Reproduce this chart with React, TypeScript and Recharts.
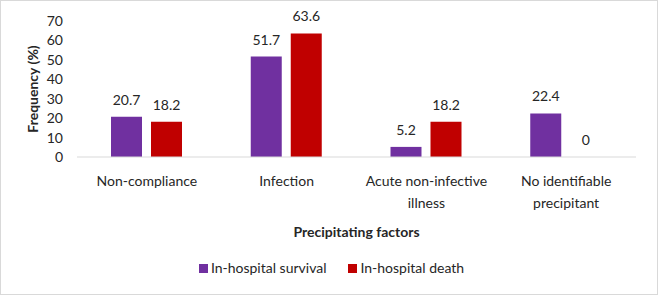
import React from "react";
import { BarChart, Bar, XAxis, YAxis, Legend, LabelList } from "recharts";

// precipitating factors (\n = line break in the axis label)
const categories = [
  "Non-compliance",
  "Infection",
  "Acute non-infective\nillness",
  "No identifiable\nprecipitant",
];
const survival = [20.7, 51.7, 5.2, 22.4];
const death = [18.2, 63.6, 18.2, 0];
const yTicks = [0, 10, 20, 30, 40, 50, 60, 70];
const seriesOrder = ["In-hospital survival", "In-hospital death"];

const PURPLE = "#7030A0";
const RED = "#C00000";
const TEXT = "#262626";
const FONT = "Lato, 'Liberation Sans', sans-serif";

const data = categories.map((c, i) => ({
  factor: c,
  survival: survival[i],
  death: death[i],
}));

const FactorTick = (props: any) => {
  const { x, y, payload } = props;
  const lines = String(payload.value).split("\n");
  return (
    <text x={x} y={y} textAnchor="middle" fill={TEXT} fontSize={14} fontFamily={FONT}>
      {lines.map((l, i) => (
        <tspan key={i} x={x} dy={i === 0 ? 28.6 : 22.5}>
          {l}
        </tspan>
      ))}
    </text>
  );
};

// value labels, drawn also for zero-height bars
const ValueLabel = (props: any) => {
  const { x, y, width, value } = props;
  if (value === undefined || value === null) return null;
  return (
    <text
      x={Number(x) + Number(width) / 2}
      y={Number(y) - 12}
      textAnchor="middle"
      fill={TEXT}
      fontSize={14}
      fontFamily={FONT}
    >
      {value}
    </text>
  );
};

const LegendBox = (props: any) => {
  const items = [...(props.payload || [])].sort(
    (a: any, b: any) => seriesOrder.indexOf(a.value) - seriesOrder.indexOf(b.value)
  );
  return (
    <div style={{ display: "flex", justifyContent: "center", gap: 22, height: 20, lineHeight: "20px", paddingLeft: 26 }}>
      {items.map((it: any) => (
        <span key={it.value} style={{ display: "flex", alignItems: "center", fontSize: 14, color: TEXT, fontFamily: FONT }}>
          <span style={{ width: 9, height: 9, background: it.color, marginRight: 3, display: "inline-block" }} />
          {it.value}
        </span>
      ))}
    </div>
  );
};

export default function App() {
  return (
    <div
      style={{
        position: "absolute",
        left: 0,
        top: 0,
        width: 658,
        height: 295,
        boxSizing: "border-box",
        border: "1px solid #d9d9d9",
        background: "#fff",
        fontFamily: FONT,
      }}
    >
      <BarChart
        width={656}
        height={293}
        data={data}
        margin={{ top: 20, right: 21, bottom: 16, left: 0 }}
        barGap={9}
        barSize={31}
      >
        <XAxis
          dataKey="factor"
          height={101}
          tickLine={false}
          tickSize={0}
          tickMargin={0}
          axisLine={{ stroke: "#d9d9d9" }}
          tick={<FactorTick />}
          interval={0}
          label={{
            value: "Precipitating factors",
            position: "insideBottom",
            offset: 21.5,
            fill: TEXT,
            fontSize: 14,
            fontWeight: 700,
            fontFamily: FONT,
          }}
        />
        <YAxis
          width={76}
          domain={[0, 70]}
          ticks={yTicks}
          interval={0}
          tickLine={false}
          axisLine={false}
          tickSize={6}
          tickMargin={8}
          tick={{ fill: TEXT, fontSize: 14, fontFamily: FONT }}
          label={{
            value: "Frequency (%)",
            angle: -90,
            position: "center",
            dx: -6,
            fill: TEXT,
            fontSize: 14,
            fontWeight: 700,
            fontFamily: FONT,
          }}
        />
        <Legend verticalAlign="bottom" content={<LegendBox />} wrapperStyle={{ height: 20 }} />
        <Bar dataKey="survival" name="In-hospital survival" fill={PURPLE} isAnimationActive={false}>
          <LabelList dataKey="survival" content={<ValueLabel />} />
        </Bar>
        <Bar
          dataKey="death"
          name="In-hospital death"
          fill={RED}
          minPointSize={0.01}
          isAnimationActive={false}
        >
          <LabelList dataKey="death" content={<ValueLabel />} />
        </Bar>
      </BarChart>
    </div>
  );
}
